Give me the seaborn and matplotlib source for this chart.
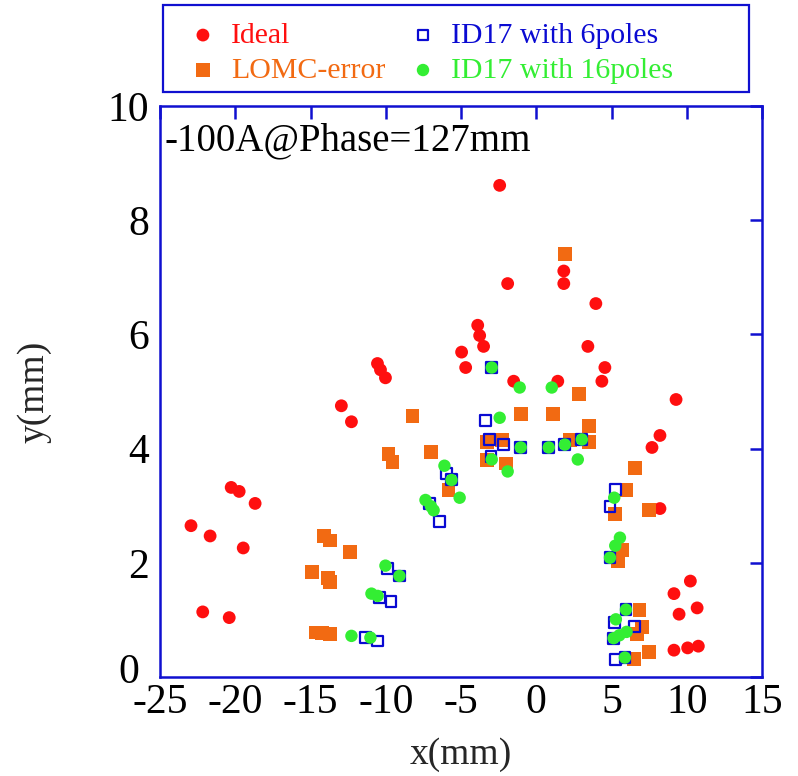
import matplotlib
matplotlib.use("Agg")
import matplotlib.pyplot as plt
from matplotlib.patches import Rectangle
from matplotlib.transforms import ScaledTranslation
import seaborn as sns
import pandas as pd

# Beam position data (mm)
ideal_x = [-20.27, -19.74, -18.68, -22.94, -21.67, -19.47, -22.16, -20.40,
           -12.95, -12.28, -10.55, -10.35, -10.02,
           -4.96, -4.69, -3.89, -3.76, -3.50, -2.43, -1.90, -1.50,
           1.43, 1.83, 1.83, 3.96, 3.43, 4.56, 4.36,
           9.29, 8.22, 7.69, 8.22,
           10.24, 9.15, 10.69, 9.49, 9.15, 10.06, 10.77]
ideal_y = [3.32, 3.25, 3.04, 2.65, 2.47, 2.26, 1.14, 1.04,
           4.75, 4.47, 5.49, 5.38, 5.24,
           5.69, 5.42, 6.16, 5.98, 5.79, 8.61, 6.89, 5.18,
           5.18, 7.11, 6.89, 6.54, 5.79, 5.42, 5.18,
           4.86, 4.23, 4.02, 2.95,
           1.68, 1.46, 1.21, 1.10, 0.47, 0.51, 0.54]

lomc_x = [-14.08, -13.68, -12.35, -14.88, -13.81, -13.68, -14.61, -14.21, -13.68,
          -8.22, -9.82, -9.55, -7.02, -5.83,
          -3.28, -2.30, -3.30, -2.03, -1.03, 1.10, 2.83, 3.50, 2.25, 3.48, 1.90,
          6.56, 6.00, 5.23, 7.51, 5.73, 5.43, 6.86, 7.00, 6.72, 6.51, 7.51]
lomc_y = [2.47, 2.39, 2.19, 1.84, 1.73, 1.66, 0.78, 0.77, 0.75,
          4.57, 3.91, 3.76, 3.94, 3.28,
          4.12, 4.15, 3.80, 3.74, 4.61, 4.61, 4.96, 4.40, 4.15, 4.11, 7.41,
          3.66, 3.27, 2.85, 2.92, 2.22, 2.03, 1.17, 0.88, 0.76, 0.32, 0.44]

p6_x = [-9.87, -9.09, -10.42, -9.65, -11.35, -10.57,
        -7.09, -6.42, -5.96, -5.63,
        -2.96, -3.36, -3.10, -2.17, -1.03, 0.83, 1.90, 3.03, -3.00,
        5.29, 4.90, 4.90, 5.96, 5.18, 6.51, 5.14, 5.29, 5.89]
p6_y = [1.90, 1.77, 1.39, 1.32, 0.69, 0.63,
        3.04, 2.72, 3.56, 3.46,
        5.42, 4.49, 4.16, 4.07, 4.02, 4.02, 4.07, 4.16, 3.86,
        3.28, 2.98, 2.09, 1.18, 0.96, 0.89, 0.68, 0.31, 0.34]

p16_x = [-10.02, -9.09, -10.95, -10.54, -12.28, -11.02,
         -7.36, -7.00, -6.82, -6.10, -5.63, -5.09,
         -2.96, -1.10, 1.03, -2.43, -1.03, 0.83, 1.90, 3.03, 2.76, -2.96, -1.90,
         5.18, 5.56, 5.25, 4.90, 5.96, 5.29, 6.00, 5.52, 5.14, 5.89]
p16_y = [1.95, 1.77, 1.46, 1.42, 0.72, 0.69,
         3.10, 2.99, 2.92, 3.70, 3.45, 3.14,
         5.42, 5.07, 5.07, 4.54, 4.02, 4.02, 4.07, 4.16, 3.81, 3.81, 3.60,
         3.14, 2.44, 2.30, 2.09, 1.18, 1.01, 0.79, 0.73, 0.68, 0.34]

labels = ["Ideal", "LOMC-error", "ID17 with 6poles", "ID17 with 16poles"]
x_ticks = [-25, -20, -15, -10, -5, 0, 5, 10, 15]
y_ticks = [0, 2, 4, 6, 8, 10]

RED = "#ff0f0f"
ORANGE = "#f26a12"
BLUE = "#0a0ad2"
GREEN = "#33ee33"
FRAME = "#1010d0"

sns.set_style("white")
plt.rcParams["font.family"] = ["Liberation Serif", "DejaVu Serif"]
plt.rcParams["axes.unicode_minus"] = False

W, H = 798, 776
fig = plt.figure(figsize=(W / 100, H / 100), dpi=100)
ax = fig.add_axes([160 / W, 1 - 677 / H, 602 / W, 571 / H])

ideal = pd.DataFrame({"x": ideal_x, "y": ideal_y})
lomc = pd.DataFrame({"x": lomc_x, "y": lomc_y})
p6 = pd.DataFrame({"x": p6_x, "y": p6_y})
p16 = pd.DataFrame({"x": p16_x, "y": p16_y})

sns.scatterplot(data=ideal, x="x", y="y", ax=ax, marker="o", s=85,
                color=RED, edgecolor="none", linewidth=0, label=labels[0], zorder=2)
sns.scatterplot(data=lomc, x="x", y="y", ax=ax, marker="s", s=100,
                color=ORANGE, edgecolor="none", linewidth=0, label=labels[1], zorder=3)
sns.scatterplot(data=p6, x="x", y="y", ax=ax, marker="s", s=60,
                facecolor="none", edgecolor=BLUE, linewidth=1.6, label=labels[2], zorder=4)
sns.scatterplot(data=p16, x="x", y="y", ax=ax, marker="o", s=80,
                color=GREEN, edgecolor="none", linewidth=0, label=labels[3], zorder=5)

ax.set_xlim(-25, 15)
ax.set_ylim(0, 10)
ax.set_xticks(x_ticks)
ax.set_yticks(y_ticks)
ax.tick_params(axis="both", which="major", direction="in", length=9, width=1.8,
               color=FRAME, labelsize=30, top=True, right=True,
               labelcolor="black")
ax.tick_params(axis="y", pad=8)
ax.tick_params(axis="x", pad=5)
for sp in ax.spines.values():
    sp.set_color(FRAME)
    sp.set_linewidth(1.8)
    sp.set_visible(True)

# nudge the corner "0" label so it clears the "-25" label below it
zero_lbl = ax.get_yticklabels()[0]
zero_lbl.set_transform(zero_lbl.get_transform()
                       + ScaledTranslation(-7 / 72, 6 / 72, fig.dpi_scale_trans))

ax.set_xlabel("x(mm)", fontsize=27, labelpad=11)
ax.set_ylabel("y(mm)", fontsize=27, labelpad=40)

ax.text(0.008, (677 - 150) / 571, "-100A@Phase=127mm", transform=ax.transAxes,
        fontsize=28, ha="left", va="baseline", color="black")

# Legend: entries in two columns, framed by a blue box above the axes
leg = ax.legend(ncol=2, loc="upper left", bbox_to_anchor=(188 / W, 1 - 22 / H),
                bbox_transform=fig.transFigure, fontsize=21.5, frameon=False,
                handlelength=1.0, handletextpad=0.45, columnspacing=0.75,
                borderpad=0, borderaxespad=0, labelspacing=0.27, markerscale=1.0)
for txt, c in zip(leg.get_texts(), [RED, ORANGE, BLUE, GREEN]):
    txt.set_color(c)
fig.patches.append(Rectangle((163 / W, 1 - 92 / H), (749 - 163) / W, 87 / H,
                             transform=fig.transFigure, fill=False,
                             edgecolor=FRAME, linewidth=1.6))

fig.savefig("out.png", dpi=100)
